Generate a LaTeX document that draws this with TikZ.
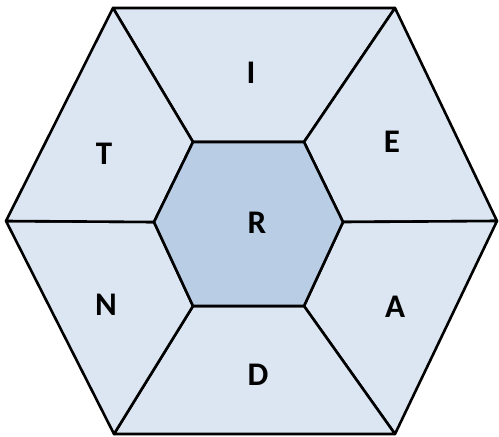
\documentclass[tikz,border=0pt]{standalone}
\usepackage{fontspec}
\setmainfont{Carlito}
\begin{document}
\begin{tikzpicture}[x=1pt,y=-1pt,
  seg/.style={draw=black,line width=2.6pt,line join=round,fill=lightblue},
  core/.style={draw=black,line width=2.6pt,line join=round,fill=midblue},
  lbl/.style={font=\bfseries\fontsize{33}{33}\selectfont,text=black,inner sep=0pt}]
\definecolor{lightblue}{HTML}{DCE6F2}
\definecolor{midblue}{HTML}{B9CDE5}
\useasboundingbox (0,0) rectangle (499,437);
% outer vertices
\coordinate (o1) at (113,8);
\coordinate (o2) at (395,8);
\coordinate (o3) at (497,221);
\coordinate (o4) at (395,434);
\coordinate (o5) at (114,434);
\coordinate (o6) at (6,221);
% inner vertices
\coordinate (i1) at (193,142);
\coordinate (i2) at (304,142);
\coordinate (i3) at (343,222);
\coordinate (i4) at (304,306);
\coordinate (i5) at (193,306);
\coordinate (i6) at (154,222);
% segments
\path[seg] (o1) -- (o2) -- (i2) -- (i1) -- cycle;
\path[seg] (o2) -- (o3) -- (i3) -- (i2) -- cycle;
\path[seg] (o3) -- (o4) -- (i4) -- (i3) -- cycle;
\path[seg] (o4) -- (o5) -- (i5) -- (i4) -- cycle;
\path[seg] (o5) -- (o6) -- (i6) -- (i5) -- cycle;
\path[seg] (o6) -- (o1) -- (i1) -- (i6) -- cycle;
\path[core] (i1) -- (i2) -- (i3) -- (i4) -- (i5) -- (i6) -- cycle;
% labels
\node[lbl] (I) at (251,73) {I};
\node[lbl] (E) at (392,142) {E};
\node[lbl] (T) at (104,154) {T};
\node[lbl] (R) at (257,223) {R};
\node[lbl] (N) at (106,305) {N};
\node[lbl] (A) at (395,307) {A};
\node[lbl] (D) at (258,375) {D};
\end{tikzpicture}
\end{document}
